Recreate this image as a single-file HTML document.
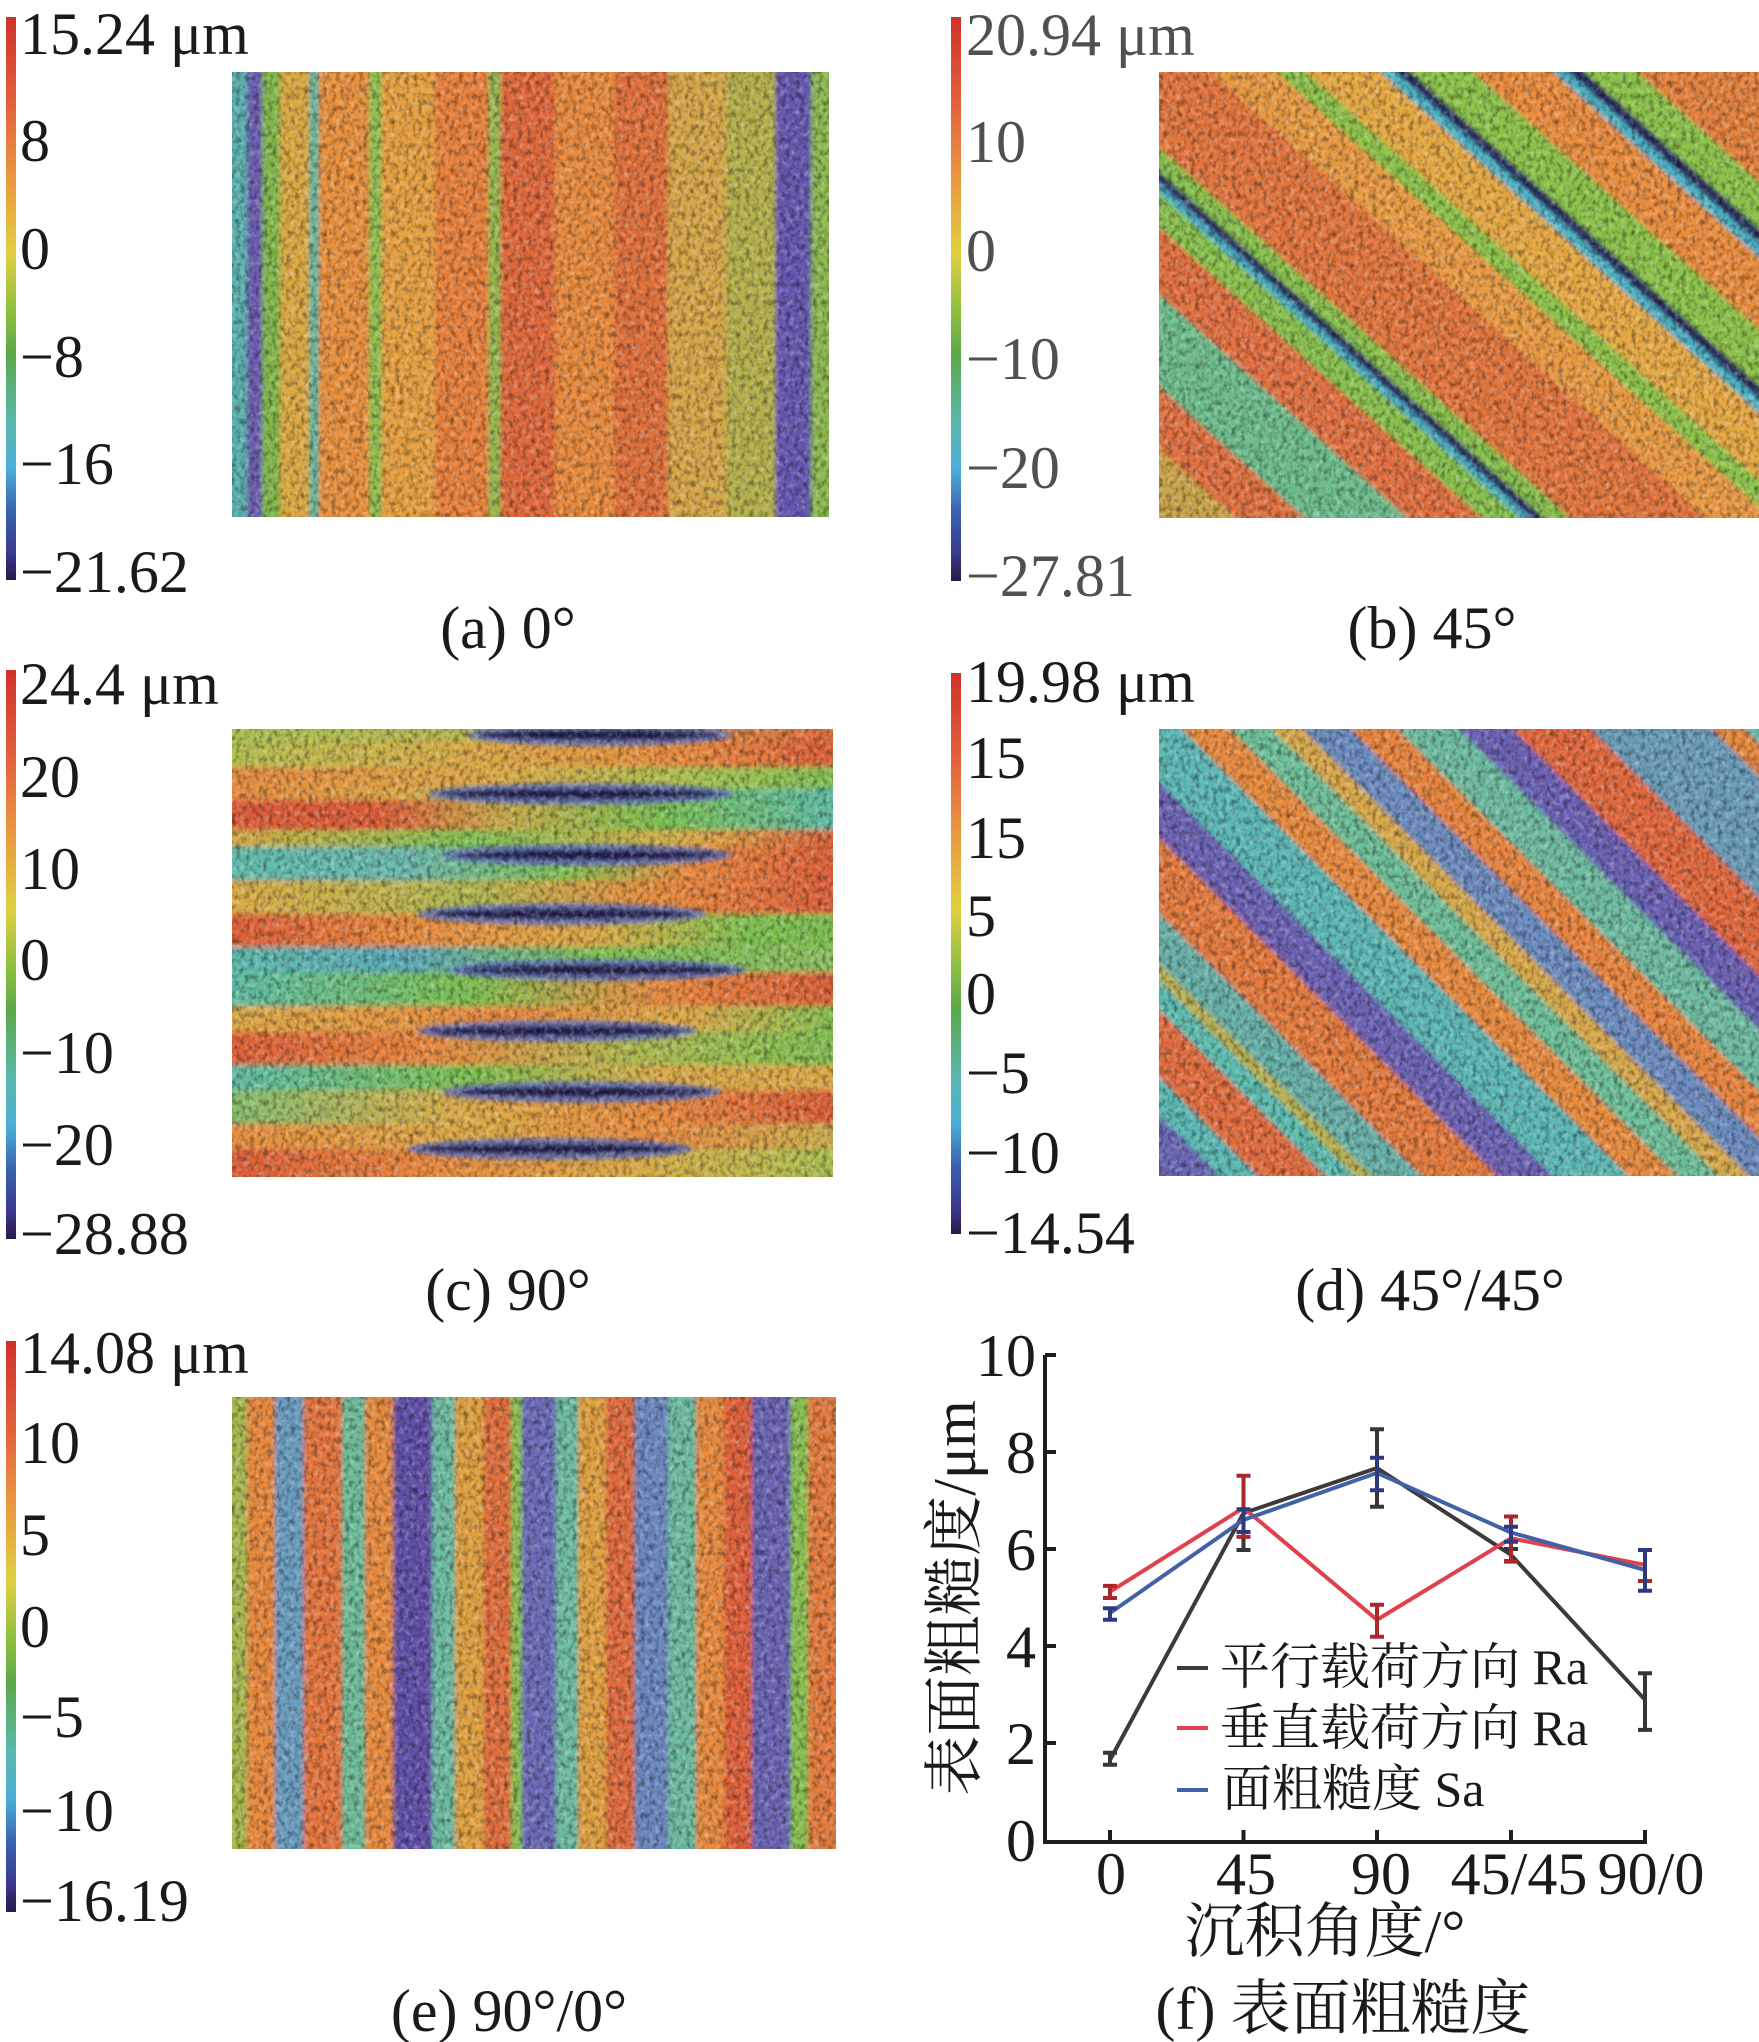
<!DOCTYPE html>
<html><head><meta charset="utf-8"><style>
html,body{margin:0;padding:0;background:#fff;overflow:hidden}
svg{display:block}
.t{font-family:"Liberation Serif","Noto Serif CJK SC",serif;font-size:60px;fill:#1a1a1a}
.g{fill:#505050}
.c{text-anchor:middle}
.lg{font-size:50px}
</style></head><body>
<svg width="1759" height="2042" viewBox="0 0 1759 2042" xmlns="http://www.w3.org/2000/svg">
<defs>
<linearGradient id="cb" x1="0" y1="0" x2="0" y2="1">
<stop offset="0" stop-color="#d0302a"/><stop offset="0.15" stop-color="#e2603a"/><stop offset="0.28" stop-color="#ec9440"/><stop offset="0.42" stop-color="#e0d040"/><stop offset="0.52" stop-color="#90c040"/><stop offset="0.6" stop-color="#5aa848"/><stop offset="0.72" stop-color="#5ab8b0"/><stop offset="0.8" stop-color="#4ab0d8"/><stop offset="0.88" stop-color="#3a60b0"/><stop offset="0.95" stop-color="#3a3a90"/><stop offset="1" stop-color="#2a1848"/>
</linearGradient>
<filter id="dk" x="0" y="0" width="1" height="1"><feTurbulence type="fractalNoise" baseFrequency="0.22 0.16" numOctaves="2" seed="2"/><feColorMatrix type="matrix" values="0 0 0 0 0  0 0 0 0 0  0 0 0 0 0  -2.2 0 0 0 1.25"/></filter>
<filter id="lt" x="0" y="0" width="1" height="1"><feTurbulence type="fractalNoise" baseFrequency="0.2 0.18" numOctaves="2" seed="7"/><feColorMatrix type="matrix" values="0 0 0 0 1  0 0 0 0 1  0 0 0 0 1  2.2 0 0 0 -1.05"/></filter>
<filter id="bl" x="-5%" y="-5%" width="110%" height="110%"><feGaussianBlur stdDeviation="3"/></filter>
<filter id="sb" x="-5%" y="-5%" width="110%" height="110%"><feGaussianBlur stdDeviation="2.2"/></filter>
<filter id="bl2" x="-5%" y="-50%" width="110%" height="200%"><feGaussianBlur stdDeviation="2"/></filter>
<clipPath id="ca"><rect x="232" y="72" width="597" height="445"/></clipPath>
<clipPath id="cbx"><rect x="1159" y="72" width="600" height="446"/></clipPath>
<clipPath id="cc"><rect x="232" y="729" width="601" height="448"/></clipPath>
<clipPath id="cd"><rect x="1159" y="729" width="600" height="447"/></clipPath>
<clipPath id="ce"><rect x="232" y="1397" width="604" height="452"/></clipPath>

<linearGradient id="ga" gradientUnits="userSpaceOnUse" x1="232" y1="0" x2="829" y2="0">
<stop offset="0" stop-color="#5ab0b0"/><stop offset="0.025" stop-color="#5ab0b0"/>
<stop offset="0.025" stop-color="#6a5cb0"/><stop offset="0.05" stop-color="#6a5cb0"/>
<stop offset="0.05" stop-color="#80b848"/><stop offset="0.08" stop-color="#80b848"/>
<stop offset="0.08" stop-color="#dca842"/><stop offset="0.13" stop-color="#dca842"/>
<stop offset="0.13" stop-color="#5cb8a0"/><stop offset="0.145" stop-color="#5cb8a0"/>
<stop offset="0.145" stop-color="#e8903e"/><stop offset="0.23" stop-color="#e8903e"/>
<stop offset="0.23" stop-color="#8cc050"/><stop offset="0.25" stop-color="#8cc050"/>
<stop offset="0.25" stop-color="#e6a040"/><stop offset="0.34" stop-color="#e6a040"/>
<stop offset="0.34" stop-color="#e8803a"/><stop offset="0.43" stop-color="#e8803a"/>
<stop offset="0.43" stop-color="#94b850"/><stop offset="0.45" stop-color="#94b850"/>
<stop offset="0.45" stop-color="#e0683a"/><stop offset="0.54" stop-color="#e0683a"/>
<stop offset="0.54" stop-color="#e88a3c"/><stop offset="0.64" stop-color="#e88a3c"/>
<stop offset="0.64" stop-color="#e0703a"/><stop offset="0.73" stop-color="#e0703a"/>
<stop offset="0.73" stop-color="#d4a646"/><stop offset="0.83" stop-color="#d4a646"/>
<stop offset="0.83" stop-color="#b4b04c"/><stop offset="0.91" stop-color="#b4b04c"/>
<stop offset="0.91" stop-color="#6656b0"/><stop offset="0.97" stop-color="#6656b0"/>
<stop offset="0.97" stop-color="#8cb850"/><stop offset="1" stop-color="#8cb850"/>
</linearGradient>

<linearGradient id="gb" gradientUnits="userSpaceOnUse" x1="1213.6" y1="566.9" x2="1703.4" y2="23.1">
<stop offset="0" stop-color="#c9a44a"/><stop offset="0.07" stop-color="#c9a44a"/>
<stop offset="0.07" stop-color="#e07040"/><stop offset="0.133" stop-color="#e07040"/>
<stop offset="0.133" stop-color="#6cbc8c"/><stop offset="0.227" stop-color="#6cbc8c"/>
<stop offset="0.227" stop-color="#e27040"/><stop offset="0.295" stop-color="#e27040"/>
<stop offset="0.295" stop-color="#86c04c"/><stop offset="0.33" stop-color="#86c04c"/>
<stop offset="0.33" stop-color="#48b0c8"/><stop offset="0.34" stop-color="#48b0c8"/>
<stop offset="0.34" stop-color="#2c2c64"/><stop offset="0.352" stop-color="#2c2c64"/>
<stop offset="0.352" stop-color="#86c04c"/><stop offset="0.376" stop-color="#86c04c"/>
<stop offset="0.376" stop-color="#e2743e"/><stop offset="0.5" stop-color="#e2743e"/>
<stop offset="0.5" stop-color="#e99a42"/><stop offset="0.56" stop-color="#e99a42"/>
<stop offset="0.56" stop-color="#8cc24a"/><stop offset="0.587" stop-color="#8cc24a"/>
<stop offset="0.587" stop-color="#e6a842"/><stop offset="0.655" stop-color="#e6a842"/>
<stop offset="0.655" stop-color="#4ab4c8"/><stop offset="0.669" stop-color="#4ab4c8"/>
<stop offset="0.669" stop-color="#2a2a5e"/><stop offset="0.683" stop-color="#2a2a5e"/>
<stop offset="0.683" stop-color="#8cc24a"/><stop offset="0.74" stop-color="#8cc24a"/>
<stop offset="0.74" stop-color="#ea8c3e"/><stop offset="0.813" stop-color="#ea8c3e"/>
<stop offset="0.813" stop-color="#4ab4c8"/><stop offset="0.827" stop-color="#4ab4c8"/>
<stop offset="0.827" stop-color="#2a2a5e"/><stop offset="0.842" stop-color="#2a2a5e"/>
<stop offset="0.842" stop-color="#8cc24a"/><stop offset="0.89" stop-color="#8cc24a"/>
<stop offset="0.89" stop-color="#e4803e"/><stop offset="1" stop-color="#e4803e"/>
</linearGradient>

<linearGradient id="gd" gradientUnits="userSpaceOnUse" x1="1197" y1="1214" x2="1720" y2="691">
<stop offset="0" stop-color="#6a66b6"/><stop offset="0.058" stop-color="#6a66b6"/>
<stop offset="0.058" stop-color="#5ab8b2"/><stop offset="0.095" stop-color="#5ab8b2"/>
<stop offset="0.095" stop-color="#e26c3c"/><stop offset="0.159" stop-color="#e26c3c"/>
<stop offset="0.159" stop-color="#5cbcb0"/><stop offset="0.187" stop-color="#5cbcb0"/>
<stop offset="0.187" stop-color="#b8b050"/><stop offset="0.204" stop-color="#b8b050"/>
<stop offset="0.204" stop-color="#66b0a8"/><stop offset="0.251" stop-color="#66b0a8"/>
<stop offset="0.251" stop-color="#e47a3c"/><stop offset="0.324" stop-color="#e47a3c"/>
<stop offset="0.324" stop-color="#6a62b4"/><stop offset="0.377" stop-color="#6a62b4"/>
<stop offset="0.377" stop-color="#5cb8b4"/><stop offset="0.449" stop-color="#5cb8b4"/>
<stop offset="0.449" stop-color="#e88a3e"/><stop offset="0.495" stop-color="#e88a3e"/>
<stop offset="0.495" stop-color="#6cbf98"/><stop offset="0.535" stop-color="#6cbf98"/>
<stop offset="0.535" stop-color="#d8a848"/><stop offset="0.565" stop-color="#d8a848"/>
<stop offset="0.565" stop-color="#6a8cc0"/><stop offset="0.61" stop-color="#6a8cc0"/>
<stop offset="0.61" stop-color="#e8843e"/><stop offset="0.655" stop-color="#e8843e"/>
<stop offset="0.655" stop-color="#6cbca0"/><stop offset="0.714" stop-color="#6cbca0"/>
<stop offset="0.714" stop-color="#6a60b4"/><stop offset="0.765" stop-color="#6a60b4"/>
<stop offset="0.765" stop-color="#e2683c"/><stop offset="0.84" stop-color="#e2683c"/>
<stop offset="0.84" stop-color="#6a9cb8"/><stop offset="0.956" stop-color="#6a9cb8"/>
<stop offset="0.956" stop-color="#e8883e"/><stop offset="0.987" stop-color="#e8883e"/>
<stop offset="0.987" stop-color="#5cb8b0"/><stop offset="1" stop-color="#5cb8b0"/>
</linearGradient>

<linearGradient id="ge" gradientUnits="userSpaceOnUse" x1="232" y1="0" x2="836" y2="0">
<stop offset="0" stop-color="#a8b850"/><stop offset="0.025" stop-color="#a8b850"/>
<stop offset="0.025" stop-color="#e8883e"/><stop offset="0.071" stop-color="#e8883e"/>
<stop offset="0.071" stop-color="#6a9cc0"/><stop offset="0.118" stop-color="#6a9cc0"/>
<stop offset="0.118" stop-color="#e4743c"/><stop offset="0.182" stop-color="#e4743c"/>
<stop offset="0.182" stop-color="#6cbc98"/><stop offset="0.22" stop-color="#6cbc98"/>
<stop offset="0.22" stop-color="#e88a3e"/><stop offset="0.267" stop-color="#e88a3e"/>
<stop offset="0.267" stop-color="#6050a8"/><stop offset="0.331" stop-color="#6050a8"/>
<stop offset="0.331" stop-color="#6cbca0"/><stop offset="0.369" stop-color="#6cbca0"/>
<stop offset="0.369" stop-color="#e0a040"/><stop offset="0.416" stop-color="#e0a040"/>
<stop offset="0.416" stop-color="#e06e3c"/><stop offset="0.462" stop-color="#e06e3c"/>
<stop offset="0.462" stop-color="#88c050"/><stop offset="0.48" stop-color="#88c050"/>
<stop offset="0.48" stop-color="#6a6ab8"/><stop offset="0.536" stop-color="#6a6ab8"/>
<stop offset="0.536" stop-color="#6cbca0"/><stop offset="0.573" stop-color="#6cbca0"/>
<stop offset="0.573" stop-color="#e0a040"/><stop offset="0.619" stop-color="#e0a040"/>
<stop offset="0.619" stop-color="#e06a3c"/><stop offset="0.666" stop-color="#e06a3c"/>
<stop offset="0.666" stop-color="#6a88c0"/><stop offset="0.722" stop-color="#6a88c0"/>
<stop offset="0.722" stop-color="#6cbca0"/><stop offset="0.768" stop-color="#6cbca0"/>
<stop offset="0.768" stop-color="#e88a3e"/><stop offset="0.815" stop-color="#e88a3e"/>
<stop offset="0.815" stop-color="#e0603a"/><stop offset="0.861" stop-color="#e0603a"/>
<stop offset="0.861" stop-color="#6a64b4"/><stop offset="0.925" stop-color="#6a64b4"/>
<stop offset="0.925" stop-color="#88c050"/><stop offset="0.954" stop-color="#88c050"/>
<stop offset="0.954" stop-color="#e47a3c"/><stop offset="1" stop-color="#e47a3c"/>
</linearGradient>

<linearGradient id="r1"><stop offset="0" stop-color="#a8c050"/><stop offset="0.38" stop-color="#b8b850"/><stop offset="1" stop-color="#e06a3a"/></linearGradient>
<linearGradient id="r2"><stop offset="0" stop-color="#b0c050"/><stop offset="0.4" stop-color="#dcaa46"/><stop offset="0.75" stop-color="#e88a3e"/><stop offset="1" stop-color="#dc5c38"/></linearGradient>
<linearGradient id="r3"><stop offset="0" stop-color="#e88a3e"/><stop offset="0.45" stop-color="#dcaa46"/><stop offset="0.75" stop-color="#a8c050"/><stop offset="1" stop-color="#7cc050"/></linearGradient>
<linearGradient id="r4"><stop offset="0" stop-color="#e88a3e"/><stop offset="0.3" stop-color="#dcaa46"/><stop offset="0.6" stop-color="#7cc050"/><stop offset="1" stop-color="#5cbcaa"/></linearGradient>
<linearGradient id="r5"><stop offset="0" stop-color="#dc5c38"/><stop offset="0.25" stop-color="#dc5c38"/><stop offset="0.45" stop-color="#c8a848"/><stop offset="0.7" stop-color="#7cc050"/><stop offset="1" stop-color="#5cbcaa"/></linearGradient>
<linearGradient id="r6"><stop offset="0" stop-color="#dcaa46"/><stop offset="0.4" stop-color="#7cc050"/><stop offset="0.75" stop-color="#dcaa46"/><stop offset="1" stop-color="#dc5c38"/></linearGradient>
<linearGradient id="r7"><stop offset="0" stop-color="#5cbcaa"/><stop offset="0.3" stop-color="#6cb8b0"/><stop offset="0.55" stop-color="#7cc050"/><stop offset="0.75" stop-color="#e88a3e"/><stop offset="1" stop-color="#dc5c38"/></linearGradient>
<linearGradient id="r8"><stop offset="0" stop-color="#dcaa46"/><stop offset="0.4" stop-color="#b0b850"/><stop offset="0.7" stop-color="#e88a3e"/><stop offset="1" stop-color="#dc5c38"/></linearGradient>
<linearGradient id="r9"><stop offset="0" stop-color="#dc5c38"/><stop offset="0.3" stop-color="#e88a3e"/><stop offset="0.6" stop-color="#dcaa46"/><stop offset="0.85" stop-color="#7cc050"/><stop offset="1" stop-color="#7cc050"/></linearGradient>
<linearGradient id="r10"><stop offset="0" stop-color="#5cbcaa"/><stop offset="0.3" stop-color="#5aa8b8"/><stop offset="0.6" stop-color="#7cc050"/><stop offset="1" stop-color="#8cc060"/></linearGradient>
<linearGradient id="r11"><stop offset="0" stop-color="#5cbcaa"/><stop offset="0.4" stop-color="#7cc050"/><stop offset="0.7" stop-color="#e88a3e"/><stop offset="1" stop-color="#dc5c38"/></linearGradient>
<linearGradient id="r12"><stop offset="0" stop-color="#dcaa46"/><stop offset="0.45" stop-color="#e88a3e"/><stop offset="0.75" stop-color="#dcaa46"/><stop offset="1" stop-color="#7cc050"/></linearGradient>
<linearGradient id="r13"><stop offset="0" stop-color="#dc5c38"/><stop offset="0.35" stop-color="#e88a3e"/><stop offset="0.65" stop-color="#b0b850"/><stop offset="1" stop-color="#7cc050"/></linearGradient>
<linearGradient id="r14"><stop offset="0" stop-color="#5cbcaa"/><stop offset="0.4" stop-color="#7cc050"/><stop offset="0.7" stop-color="#dcaa46"/><stop offset="1" stop-color="#dcaa46"/></linearGradient>
<linearGradient id="r15"><stop offset="0" stop-color="#80c070"/><stop offset="0.4" stop-color="#dcaa46"/><stop offset="0.7" stop-color="#e88a3e"/><stop offset="1" stop-color="#dc5c38"/></linearGradient>
<linearGradient id="r16"><stop offset="0" stop-color="#e88a3e"/><stop offset="0.4" stop-color="#dcaa46"/><stop offset="0.7" stop-color="#e88a3e"/><stop offset="1" stop-color="#c8b050"/></linearGradient>
<linearGradient id="r17"><stop offset="0" stop-color="#dc5c38"/><stop offset="0.35" stop-color="#e88a3e"/><stop offset="0.65" stop-color="#dcaa46"/><stop offset="1" stop-color="#a8c050"/></linearGradient>
</defs>

<!-- (a) -->
<rect x="6" y="17" width="10" height="563" fill="url(#cb)"/>
<g clip-path="url(#ca)"><rect x="222" y="62" width="617" height="465" fill="url(#ga)" filter="url(#sb)"/></g>
<rect x="232" y="72" width="597" height="445" filter="url(#dk)" opacity="0.45"/>
<rect x="232" y="72" width="597" height="445" filter="url(#lt)" opacity="0.35"/>
<g class="t">
<text x="20" y="54">15.24 μm</text><text x="20" y="161">8</text><text x="20" y="269">0</text><text x="20" y="377">−8</text><text x="20" y="484">−16</text><text x="20" y="592">−21.62</text>
<text class="c" x="508" y="648">(a) 0°</text>
</g>

<!-- (b) -->
<rect x="951" y="17" width="10" height="564" fill="url(#cb)"/>
<g clip-path="url(#cbx)"><rect x="1149" y="62" width="620" height="466" fill="url(#gb)" filter="url(#sb)"/></g>
<rect x="1159" y="72" width="600" height="446" filter="url(#dk)" opacity="0.45"/>
<rect x="1159" y="72" width="600" height="446" filter="url(#lt)" opacity="0.35"/>
<g class="t g">
<text x="966" y="55">20.94 μm</text><text x="966" y="162">10</text><text x="966" y="271">0</text><text x="966" y="379">−10</text><text x="966" y="488">−20</text><text x="966" y="596">−27.81</text>
</g>
<text class="t c" x="1432" y="648">(b) 45°</text>

<!-- (c) -->
<rect x="6" y="670" width="10" height="569" fill="url(#cb)"/>
<g clip-path="url(#cc)">
<g filter="url(#bl)">
<rect x="220" y="715" width="625" height="26" fill="url(#r1)"/>
<rect x="220" y="741" width="625" height="26" fill="url(#r2)"/>
<rect x="220" y="767" width="625" height="22" fill="url(#r3)"/>
<rect x="220" y="789" width="625" height="11" fill="url(#r4)"/>
<rect x="220" y="800" width="625" height="30" fill="url(#r5)"/>
<rect x="220" y="830" width="625" height="17" fill="url(#r6)"/>
<rect x="220" y="847" width="625" height="33" fill="url(#r7)"/>
<rect x="220" y="880" width="625" height="34" fill="url(#r8)"/>
<rect x="220" y="914" width="625" height="33" fill="url(#r9)"/>
<rect x="220" y="947" width="625" height="25" fill="url(#r10)"/>
<rect x="220" y="972" width="625" height="34" fill="url(#r11)"/>
<rect x="220" y="1006" width="625" height="26" fill="url(#r12)"/>
<rect x="220" y="1032" width="625" height="33" fill="url(#r13)"/>
<rect x="220" y="1065" width="625" height="25" fill="url(#r14)"/>
<rect x="220" y="1090" width="625" height="34" fill="url(#r15)"/>
<rect x="220" y="1124" width="625" height="25" fill="url(#r16)"/>
<rect x="220" y="1149" width="625" height="42" fill="url(#r17)"/>
</g>
<g filter="url(#bl2)">
<g fill="#6070c0" opacity="0.85">
<ellipse cx="599" cy="735" rx="133" ry="11"/><ellipse cx="580" cy="794" rx="153" ry="11"/><ellipse cx="587" cy="855" rx="145" ry="11"/><ellipse cx="562" cy="914" rx="145" ry="11"/><ellipse cx="598" cy="970" rx="149" ry="11"/><ellipse cx="557" cy="1031" rx="140" ry="11"/><ellipse cx="582" cy="1092" rx="140" ry="11"/><ellipse cx="550" cy="1149" rx="143" ry="11"/>
</g>
<g fill="#241c48">
<ellipse cx="599" cy="735" rx="120" ry="5"/><ellipse cx="580" cy="794" rx="140" ry="5"/><ellipse cx="587" cy="855" rx="132" ry="5"/><ellipse cx="562" cy="914" rx="132" ry="5"/><ellipse cx="598" cy="970" rx="136" ry="5"/><ellipse cx="557" cy="1031" rx="127" ry="5"/><ellipse cx="582" cy="1092" rx="127" ry="5"/><ellipse cx="550" cy="1149" rx="130" ry="5"/>
</g>
</g>
</g>
<rect x="232" y="729" width="601" height="448" filter="url(#dk)" opacity="0.45"/>
<rect x="232" y="729" width="601" height="448" filter="url(#lt)" opacity="0.35"/>
<g class="t">
<text x="20" y="704">24.4 μm</text><text x="20" y="797">20</text><text x="20" y="889">10</text><text x="20" y="980">0</text><text x="20" y="1073">−10</text><text x="20" y="1165">−20</text><text x="20" y="1254">−28.88</text>
<text class="c" x="508" y="1310">(c) 90°</text>
</g>

<!-- (d) -->
<rect x="951" y="673" width="10" height="561" fill="url(#cb)"/>
<g clip-path="url(#cd)"><rect x="1149" y="719" width="620" height="467" fill="url(#gd)" filter="url(#sb)"/></g>
<rect x="1159" y="729" width="600" height="447" filter="url(#dk)" opacity="0.45"/>
<rect x="1159" y="729" width="600" height="447" filter="url(#lt)" opacity="0.35"/>
<g class="t">
<text x="966" y="702">19.98 μm</text><text x="966" y="778">15</text><text x="966" y="858">15</text><text x="966" y="936">5</text><text x="966" y="1014">0</text><text x="966" y="1093">−5</text><text x="966" y="1173">−10</text><text x="966" y="1253">−14.54</text>
<text class="c" x="1430" y="1310">(d) 45°/45°</text>
</g>

<!-- (e) -->
<rect x="6" y="1341" width="10" height="571" fill="url(#cb)"/>
<g clip-path="url(#ce)"><rect x="222" y="1387" width="624" height="472" fill="url(#ge)" filter="url(#sb)"/></g>
<rect x="232" y="1397" width="604" height="452" filter="url(#dk)" opacity="0.45"/>
<rect x="232" y="1397" width="604" height="452" filter="url(#lt)" opacity="0.35"/>
<g class="t">
<text x="20" y="1373">14.08 μm</text><text x="20" y="1463">10</text><text x="20" y="1555">5</text><text x="20" y="1647">0</text><text x="20" y="1737">−5</text><text x="20" y="1831">−10</text><text x="20" y="1921">−16.19</text>
<text class="c" x="509" y="2031">(e) 90°/0°</text>
</g>

<!-- (f) chart -->
<g stroke="#1e1e1e" stroke-width="4" fill="none">
<path d="M1045 1355 V1842 H1647"/>
<path d="M1045 1355 H1056 M1045 1452 H1056 M1045 1549 H1056 M1045 1646 H1056 M1045 1743 H1056"/>
<path d="M1110 1840 V1830 M1243.5 1840 V1830 M1377 1840 V1830 M1511 1840 V1830 M1645 1840 V1830"/>
</g>
<g class="t" text-anchor="end">
<text x="1036" y="1376">10</text><text x="1036" y="1473">8</text><text x="1036" y="1570">6</text><text x="1036" y="1667">4</text><text x="1036" y="1764">2</text><text x="1036" y="1861">0</text>
</g>
<g class="t c">
<text x="1111" y="1894">0</text><text x="1246" y="1894">45</text><text x="1381" y="1894">90</text><text x="1519" y="1894">45/45</text><text x="1651" y="1894">90/0</text>
<text x="1325" y="1952">沉积角度/°</text>
<text x="1343" y="2029">(f) 表面粗糙度</text>
</g>
<text class="t c" transform="translate(975 1598) rotate(-90)">表面粗糙度/μm</text>

<!-- series -->
<g fill="none" stroke-width="4" stroke-linejoin="round">
<polyline stroke="#3e3a3a" points="1110,1760 1243.5,1513.1 1377,1468 1511,1554.8 1645,1699.8"/>
<polyline stroke="#e2404c" points="1110,1591.7 1243.5,1507.8 1377,1619.8 1511,1538.3 1645,1565"/>
<polyline stroke="#4262a8" points="1110,1613 1243.5,1519.9 1377,1472.9 1511,1532.5 1645,1569.9"/>
</g>
<g fill="none" stroke-width="4">
<path stroke="#3a3434" d="M1110 1764.8V1752.7M1103 1764.8H1117M1103 1752.7H1117 M1243.5 1550V1476.3M1236.5 1550H1250.5 M1377 1506.8V1429.2M1370 1506.8H1384M1370 1429.2H1384 M1511 1561.1V1549M1504 1561.1H1518M1504 1549H1518 M1645 1729.9V1673.2M1638 1729.9H1652M1638 1673.2H1652"/>
<path stroke="#a8282c" d="M1110 1598V1585.9M1103 1598H1117M1103 1585.9H1117 M1243.5 1536.9V1475.8M1236.5 1536.9H1250.5M1236.5 1475.8H1250.5 M1377 1636.8V1604.8M1370 1636.8H1384M1370 1604.8H1384 M1511 1561.6V1516.5M1504 1561.6H1518M1504 1516.5H1518 M1638 1581H1652"/>
<path stroke="#2e3a80" d="M1110 1619.8V1608.2M1103 1619.8H1117M1103 1608.2H1117 M1243.5 1532V1509.2M1236.5 1532H1250.5M1236.5 1509.2H1250.5 M1377 1490.3V1457.8M1370 1490.3H1384M1370 1457.8H1384 M1511 1541.7V1526.7M1504 1541.7H1518M1504 1526.7H1518 M1645 1590.7V1550M1638 1590.7H1652M1638 1550H1652"/>
</g>

<!-- legend -->
<g stroke-width="4">
<line x1="1177" y1="1668" x2="1208" y2="1668" stroke="#3e3a3a"/>
<line x1="1177" y1="1728" x2="1208" y2="1728" stroke="#e2404c"/>
<line x1="1177" y1="1790" x2="1208" y2="1790" stroke="#4262a8"/>
</g>
<g class="t lg">
<text x="1220" y="1684">平行载荷方向 Ra</text>
<text x="1220" y="1745">垂直载荷方向 Ra</text>
<text x="1222" y="1806">面粗糙度 Sa</text>
</g>
</svg>
</body></html>
